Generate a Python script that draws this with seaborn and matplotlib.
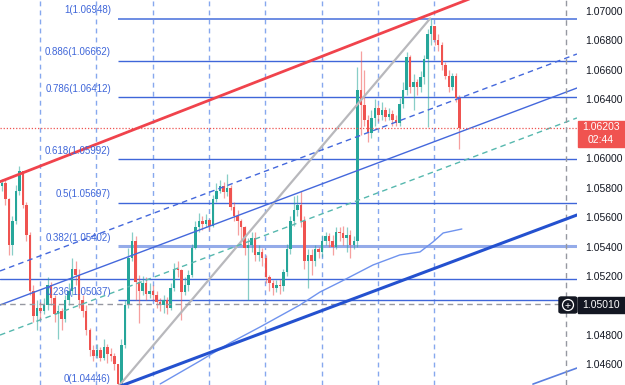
import numpy as np
import pandas as pd
import matplotlib
matplotlib.use("Agg")
import matplotlib.pyplot as plt
import matplotlib.patches as mpatches
import seaborn as sns

# ---------------- data ----------------
first_open = 1.0581
closes = [
    1.0583, 1.0572, 1.0541, 1.0557, 1.0578, 1.0591, 1.0568, 1.0548, 1.0510, 1.0493,
    1.0498, 1.0496, 1.0500, 1.0514, 1.0505, 1.0494, 1.0496, 1.0491, 1.0504, 1.0510,
    1.0525, 1.0521, 1.0504, 1.0496, 1.0483, 1.0470, 1.0466, 1.0470, 1.0464, 1.0472,
    1.0467, 1.0466, 1.0460, 1.0447, 1.0473, 1.0500, 1.0532, 1.0544, 1.0516, 1.0510,
    1.0515, 1.0508, 1.0510, 1.0507, 1.0502, 1.0500, 1.0504, 1.0498, 1.0512, 1.0525,
    1.0524, 1.0509, 1.0514, 1.0521, 1.0539, 1.0553, 1.0557, 1.0555, 1.0558, 1.0554,
    1.0572, 1.0578, 1.0581, 1.0577, 1.0580, 1.0567, 1.0561, 1.0557, 1.0553, 1.0539,
    1.0541, 1.0546, 1.0534, 1.0536, 1.0532, 1.0519, 1.0515, 1.0512, 1.0514, 1.0513,
    1.0523, 1.0538, 1.0557, 1.0565, 1.0568, 1.0557, 1.0530, 1.0534, 1.0530, 1.0538,
    1.0536, 1.0544, 1.0547, 1.0544, 1.0540, 1.0550, 1.0549, 1.0546, 1.0548, 1.0541,
    1.0544, 1.0646, 1.0636, 1.0626, 1.0617, 1.0627, 1.0634, 1.0629, 1.0633, 1.0628,
    1.0630, 1.0626, 1.0624, 1.0637, 1.0646, 1.0669, 1.0648, 1.0652, 1.0648, 1.0655,
    1.0667, 1.0684, 1.0690, 1.0680, 1.0677, 1.0663, 1.0656, 1.0648, 1.0656, 1.0641,
    1.06203]
highs = [
    1.0586, 1.0585, 1.0573, 1.0561, 1.0582, 1.0595, 1.0591, 1.0570, 1.0550, 1.0514,
    1.0504, 1.0502, 1.0505, 1.0519, 1.0516, 1.0507, 1.0500, 1.0498, 1.0507, 1.0515,
    1.0532, 1.0530, 1.0525, 1.0507, 1.0500, 1.0485, 1.0473, 1.0474, 1.0472, 1.0477,
    1.0474, 1.0471, 1.0468, 1.0460, 1.0477, 1.0504, 1.0539, 1.0550, 1.0547, 1.0521,
    1.0520, 1.0519, 1.0515, 1.0514, 1.0510, 1.0505, 1.0507, 1.0506, 1.0515, 1.0529,
    1.0530, 1.0525, 1.0519, 1.0524, 1.0542, 1.0557, 1.0563, 1.0561, 1.0562, 1.0559,
    1.0575, 1.0583, 1.0585, 1.0584, 1.0589, 1.0582, 1.0570, 1.0565, 1.0559, 1.0554,
    1.0546, 1.0550, 1.0550, 1.0541, 1.0539, 1.0534, 1.0521, 1.0517, 1.0517, 1.0518,
    1.0525, 1.0542, 1.0561, 1.0574, 1.0575, 1.0578, 1.0561, 1.0538, 1.0538, 1.0541,
    1.0540, 1.0548, 1.0550, 1.0549, 1.0548, 1.0553, 1.0553, 1.0554, 1.0553, 1.0551,
    1.0547, 1.0662, 1.0673, 1.0660, 1.0629, 1.0633, 1.0640, 1.0636, 1.0638, 1.0635,
    1.0634, 1.0633, 1.0629, 1.0641, 1.0652, 1.0672, 1.0670, 1.0657, 1.0654, 1.0659,
    1.0670, 1.0688, 1.06948, 1.0686, 1.0684, 1.0679, 1.0665, 1.0660, 1.0658, 1.0658,
    1.0643]
lows = [
    1.0578, 1.0568, 1.0534, 1.0534, 1.0555, 1.0575, 1.0566, 1.0544, 1.0507, 1.0489,
    1.0483, 1.0490, 1.0494, 1.0497, 1.0500, 1.0489, 1.0477, 1.0483, 1.0489, 1.0500,
    1.0507, 1.0514, 1.0498, 1.0492, 1.0480, 1.0466, 1.0462, 1.0464, 1.0462, 1.0463,
    1.0461, 1.0462, 1.0456, 1.04446, 1.0445, 1.0471, 1.0498, 1.0530, 1.0504, 1.0488,
    1.0507, 1.0504, 1.0505, 1.0504, 1.0498, 1.0496, 1.0495, 1.0494, 1.0497, 1.0510,
    1.0519, 1.0490, 1.0507, 1.0510, 1.0519, 1.0538, 1.0550, 1.0551, 1.0553, 1.0551,
    1.0553, 1.0570, 1.0576, 1.0573, 1.0574, 1.0565, 1.0557, 1.0548, 1.0544, 1.0534,
    1.0504, 1.0536, 1.0530, 1.0530, 1.0527, 1.0515, 1.0510, 1.0507, 1.0509, 1.0508,
    1.0510, 1.0520, 1.0535, 1.0554, 1.0561, 1.0553, 1.0525, 1.0512, 1.0521, 1.0527,
    1.0532, 1.0533, 1.0541, 1.0540, 1.0534, 1.0538, 1.0544, 1.0541, 1.0536, 1.0532,
    1.0538, 1.0540, 1.0616, 1.0622, 1.0611, 1.0614, 1.0622, 1.0625, 1.0626, 1.0625,
    1.0626, 1.0622, 1.0622, 1.0622, 1.0634, 1.0643, 1.0644, 1.0633, 1.0643, 1.0645,
    1.0650, 1.0621, 1.0677, 1.0677, 1.0673, 1.0660, 1.0654, 1.0645, 1.0646, 1.0638,
    1.0606]

fib_ratios = ["1", "0.886", "0.786", "0.618", "0.5", "0.382", "0.236", "0"]
fib_prices = [1.06948, 1.06662, 1.06412, 1.05992, 1.05697, 1.05402, 1.05037, 1.04446]
fib_start = 33.0

ma_x = [45.0, 56.3, 64.8, 73.4, 84.7, 90.4, 96.1, 105.5, 113.1, 118.8, 122.5, 125.4, 130.7]
ma_y = [1.04467, 1.04623, 1.04745, 1.04854, 1.05003, 1.05091, 1.05159, 1.05275,
        1.05343, 1.05363, 1.05431, 1.05492, 1.05519]

# trend lines: (x0, y0, x1, y1)
red_line = (-0.5, 1.0584, 163.4, 1.07365)
grey_line = (33.0, 1.04446, 121.7, 1.06948)
blue_mid = (-0.5, 1.05003, 163.4, 1.06476)
blue_dash = (-0.5, 1.05234, 163.4, 1.06707)
teal_dash = (-0.5, 1.04799, 163.4, 1.06273)
blue_thick = (33.0, 1.04446, 163.4, 1.05614)
blue_low = (150.9, 1.04466, 163.4, 1.04575)

extra_level = 1.05178
last_price = 1.06203
cross_price = 1.05010
cross_x = 160.3
day_lines = [10.86, 26.86, 42.86, 58.86, 74.86, 90.86, 106.86, 122.86]
y_ticks = [1.046, 1.048, 1.052, 1.054, 1.056, 1.058, 1.060,
           1.064, 1.066, 1.068, 1.070]

# ---------------- style ----------------
sns.set_theme(style="white")
plt.rcParams["font.family"] = ["Liberation Sans", "DejaVu Sans"]

W, H = 625, 385
fig = plt.figure(figsize=(W / 100, H / 100), dpi=100)
ax = fig.add_axes([0, 0, 577 / W, 1])
ax.set_facecolor("white")
for s in ax.spines.values():
    s.set_visible(False)

n = min(len(closes), len(highs), len(lows))
c = np.array(closes[:n])
o = np.concatenate([[first_open], c[:-1]])
h = np.maximum(np.array(highs[:n]), np.maximum(o, c))
l = np.minimum(np.array(lows[:n]), np.minimum(o, c))
x = np.arange(n)
df = pd.DataFrame({"x": x, "open": o, "high": h, "low": l, "close": c})
up = df["close"] >= df["open"]
GREEN, RED = "#26a69a", "#ef5350"
cols = np.where(up, GREEN, RED)

# day grid lines
for d in day_lines:
    ax.axvline(d, color="#86a8ee", lw=1.0, ls=(0, (3.5, 3)), zorder=1)

# horizontal levels
for i, (r, p) in enumerate(zip(fib_ratios, fib_prices)):
    if r == "0.382":
        ax.hlines(p, fib_start, 163.4, color="#94abe9", lw=2.2, zorder=2)
    elif r == "1":
        ax.hlines(p, fib_start, 163.4, color="#6d8ce3", lw=1.4, zorder=2)
    else:
        ax.hlines(p, fib_start, 163.4, color="#3f66d9", lw=1.0, zorder=2)
    ax.annotate(f"{r}({p:.5f})", xy=(31.0, p), xytext=(0, 2.5),
                textcoords="offset points", ha="right", va="bottom",
                fontsize=7, color="#3f66d9", annotation_clip=False, zorder=6)
ax.axhline(extra_level, color="#3f66d9", lw=1.0, zorder=2)

# candles
ax.vlines(df["x"], df["low"], df["high"], colors=cols, lw=0.9, alpha=0.55, zorder=3)
body_h = np.where(np.abs(df["close"] - df["open"]) < 0.00003, 0.00003,
                  df["close"] - df["open"])
ax.bar(df["x"], body_h, bottom=df["open"], width=0.7, color=cols,
       linewidth=0, zorder=3)

# moving average line through seaborn
sns.lineplot(x=ma_x, y=ma_y, ax=ax, color="#6f93ee", lw=1.0, zorder=4)


def seg(t, **kw):
    ax.plot([t[0], t[2]], [t[1], t[3]], **kw)


seg(grey_line, color="#b8b8bc", lw=1.6, zorder=4)
seg(red_line, color="#f0434c", lw=2.0, zorder=5)
seg(blue_mid, color="#4468dc", lw=1.0, zorder=4)
seg(blue_dash, color="#4468dc", lw=1.0, ls=(0, (4, 3)), zorder=4)
seg(teal_dash, color="#56b8ae", lw=1.0, ls=(0, (4, 3)), zorder=4)
seg(blue_thick, color="#2451cf", lw=2.2, zorder=5)
seg(blue_low, color="#5b7fe0", lw=1.2, zorder=4)

# current price dotted and crosshair
ax.axhline(last_price, color=RED, lw=0.9, ls=(0, (1, 1.5)), zorder=4)
ax.axhline(cross_price, color="#9598a1", lw=1.0, ls=(0, (4, 3)), zorder=4)
ax.axvline(cross_x, color="#9598a1", lw=1.0, ls=(0, (4, 3)), zorder=4)

ax.set_xlim(-0.5, 163.42)
ax.set_ylim(1.044599, 1.070736)
ax.set_xticks([])
ax.yaxis.tick_right()
ax.set_yticks(y_ticks)
ax.set_yticklabels([f"{v:.5f}" for v in y_ticks])
ax.tick_params(axis="y", length=0, pad=6, labelsize=7.5, labelcolor="#131722")
ax.set_xlabel("")
ax.set_ylabel("")
ax.grid(False)

# price boxes on the right axis


def fx(px):
    return px / W


def fy(py):
    return 1 - py / H


fig.add_artist(mpatches.Rectangle((fx(578), fy(147)), fx(47), 26 / H,
                                  transform=fig.transFigure, color="#f05350",
                                  zorder=10))
fig.text(fx(601), fy(127.5), f"{last_price:.5f}", color="white", ha="center",
         va="center", fontsize=7.5, zorder=11)
fig.text(fx(601), fy(140.5), "02:44", color="white", ha="center", va="center",
         fontsize=7.5, zorder=11)

fig.add_artist(mpatches.Rectangle((fx(578), fy(313)), fx(47), 16 / H,
                                  transform=fig.transFigure, color="#131722",
                                  zorder=10))
fig.text(fx(601), fy(305), f"{cross_price:.5f}", color="white", ha="center",
         va="center", fontsize=7.5, zorder=11)
fig.add_artist(mpatches.FancyBboxPatch((fx(559), fy(313)), fx(18), 16 / H,
                                       boxstyle="round,pad=0,rounding_size=0.004",
                                       transform=fig.transFigure, color="#131722",
                                       zorder=10))
fig.add_artist(mpatches.Ellipse((fx(568), fy(305)), 11 / W, 11 / H,
                                transform=fig.transFigure, fill=False,
                                edgecolor="white", lw=0.9, zorder=11))
fig.text(fx(568), fy(305.5), "+", color="white", ha="center", va="center",
         fontsize=7.5, zorder=12)

fig.savefig("out.png", dpi=100)
